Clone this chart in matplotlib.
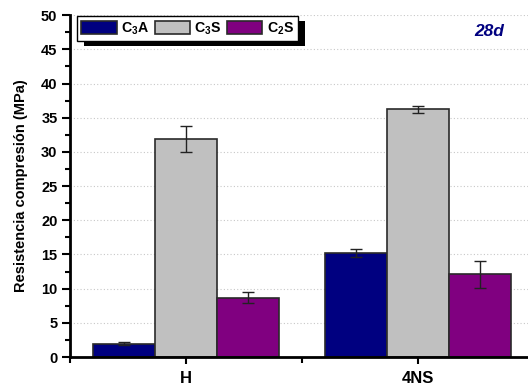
import numpy as np
import matplotlib
matplotlib.use("Agg")
import matplotlib.pyplot as plt
from matplotlib.ticker import MultipleLocator
from matplotlib.patches import Rectangle

plt.rcParams['font.family'] = ['Liberation Sans', 'DejaVu Sans']
plt.rcParams['font.weight'] = 'bold'
plt.rcParams['mathtext.fontset'] = 'custom'
plt.rcParams['mathtext.bf'] = 'Liberation Sans:bold'
plt.rcParams['mathtext.rm'] = 'Liberation Sans:bold'

# data
groups = ["H", "4NS"]
phases = [r"$\mathbf{C_3A}$", r"$\mathbf{C_3S}$", r"$\mathbf{C_2S}$"]
c3a = [1.95, 15.2]
c3s = [31.9, 36.2]
c2s = [8.7, 12.1]
c3a_err = [0.2, 0.6]
c3s_err = [1.85, 0.5]
c2s_err = [0.8, 2.0]
colors = ["#000080", "#c0c0c0", "#800080"]

fig = plt.figure(figsize=(5.28, 3.85), dpi=100)
ax = fig.add_axes([0.1325, 0.0727, 0.879, 0.888])

x = np.arange(1, len(groups) + 1)
w = 0.267
series = [c3a, c3s, c2s]
errs = [c3a_err, c3s_err, c2s_err]
for i, (vals, e, col, lab) in enumerate(zip(series, errs, colors, phases)):
    ax.bar(x + (i - 1) * w, vals, width=w, color=col, edgecolor="#2a2a2a",
           linewidth=1.2, label=lab, zorder=2)
    ax.errorbar(x + (i - 1) * w, vals, yerr=e, fmt="none", ecolor="#222222",
                elinewidth=1, capsize=4, capthick=1, zorder=3)

ax.set_xlim(0.5, 2.5)
ax.set_ylim(0, 50)
ax.set_xticks(x)
ax.set_xticklabels(groups, fontsize=12, fontweight="bold")
ax.xaxis.set_minor_locator(MultipleLocator(0.5))
ax.yaxis.set_major_locator(MultipleLocator(5))
ax.yaxis.set_minor_locator(MultipleLocator(2.5))
ax.tick_params(axis="y", labelsize=10.5, width=1.5, length=6, pad=3)
ax.tick_params(axis="y", which="minor", width=1.5, length=3.5)
ax.tick_params(axis="x", width=1.5, length=5, pad=5)
ax.tick_params(axis="x", which="minor", width=1.5, length=4)
for lbl in ax.get_yticklabels():
    lbl.set_fontweight("bold")

ax.spines["top"].set_visible(False)
ax.spines["right"].set_visible(False)
ax.spines["left"].set_linewidth(2)
ax.spines["bottom"].set_linewidth(2)
ax.grid(axis="y", linestyle=(0, (1, 2)), color="#c8c8c8", linewidth=0.8, zorder=0)
ax.set_axisbelow(True)

ax.set_ylabel("Resistencia compresión (MPa)", fontsize=10.5, fontweight="bold", labelpad=9)

leg = ax.legend(loc="upper left", ncol=3, fontsize=10.2, frameon=True, fancybox=False,
                edgecolor="black", framealpha=1, handlelength=2.5, handleheight=1.0,
                columnspacing=0.4, handletextpad=0.3, borderaxespad=0.0,
                borderpad=0.3, bbox_to_anchor=(0.015, 0.997))
leg.get_frame().set_linewidth(1)
leg.set_zorder(5)

# solid black drop shadow behind the legend box
fig.canvas.draw()
bb = leg.get_window_extent()
shadow = Rectangle((bb.x0 + 7, bb.y0 - 5), bb.width, bb.height, transform=None,
                   facecolor="black", edgecolor="none", zorder=4)
ax.add_artist(shadow)

ax.text(0.903, 0.952, "28d", transform=ax.transAxes, color="#000080",
        fontsize=12.5, fontweight="bold", fontstyle="italic", ha="center", va="center")

plt.savefig("out.png", dpi=100)
